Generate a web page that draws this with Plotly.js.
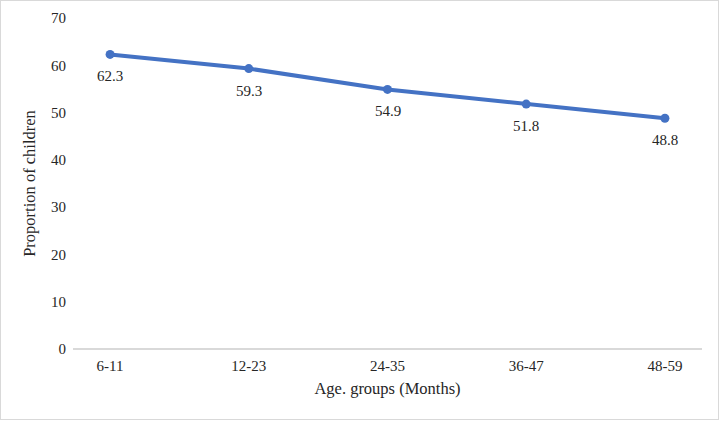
<!DOCTYPE html>
<html>
<head>
<meta charset="utf-8">
<script src="https://cdn.plot.ly/plotly-3.0.1.min.js"></script>
<style>
html,body{margin:0;padding:0;background:#fff;}
#wrap{position:relative;width:721px;height:421px;}
#chart{width:721px;height:421px;}
#frame{position:absolute;left:0px;top:0px;width:717px;height:418px;border:1.5px solid #d9d9d9;pointer-events:none;}
</style>
</head>
<body>
<div id="wrap"><div id="chart"></div><div id="frame"></div></div>
<script>
const categories = ["6-11", "12-23", "24-35", "36-47", "48-59"];
const proportions = [62.3, 59.3, 54.9, 51.8, 48.8];
const yTicks = [0, 10, 20, 30, 40, 50, 60, 70];

const font = {family: "Liberation Serif", size: 15, color: "#262626"};
const titleFont = {family: "Liberation Serif", size: 16.5, color: "#262626"};

const trace = {
  type: "scatter",
  mode: "lines+markers",
  x: categories,
  y: proportions,
  line: {color: "#4472C4", width: 4},
  marker: {color: "#4472C4", size: 9},
  cliponaxis: false,
  hoverinfo: "skip"
};

const labels = categories.map((c, i) => ({
  x: c, y: proportions[i], xref: "x", yref: "y",
  text: proportions[i].toFixed(1),
  showarrow: false, yshift: -22, font: font
}));

const layout = {
  width: 721, height: 421,
  margin: {l: 73, r: 19, t: 18, b: 72},
  paper_bgcolor: "#fff", plot_bgcolor: "#fff",
  font: font,
  showlegend: false,
  annotations: labels,
  xaxis: {
    type: "category",
    showgrid: false, zeroline: false,
    showline: false, ticks: "",
    tickfont: font,
    ticklabelstandoff: 6,
    title: {text: "Age. groups (Months)", font: titleFont, standoff: 9}
  },
  yaxis: {
    range: [0, 70],
    tickvals: yTicks,
    showgrid: false,
    zeroline: true, zerolinecolor: "#d9d9d9", zerolinewidth: 1.3,
    showline: false, ticks: "",
    tickfont: font,
    ticklabelstandoff: 6,
    title: {text: "Proportion of children", font: titleFont, standoff: 11}
  }
};

Plotly.newPlot("chart", [trace], layout, {displayModeBar: false, staticPlot: true});
</script>
</body>
</html>
